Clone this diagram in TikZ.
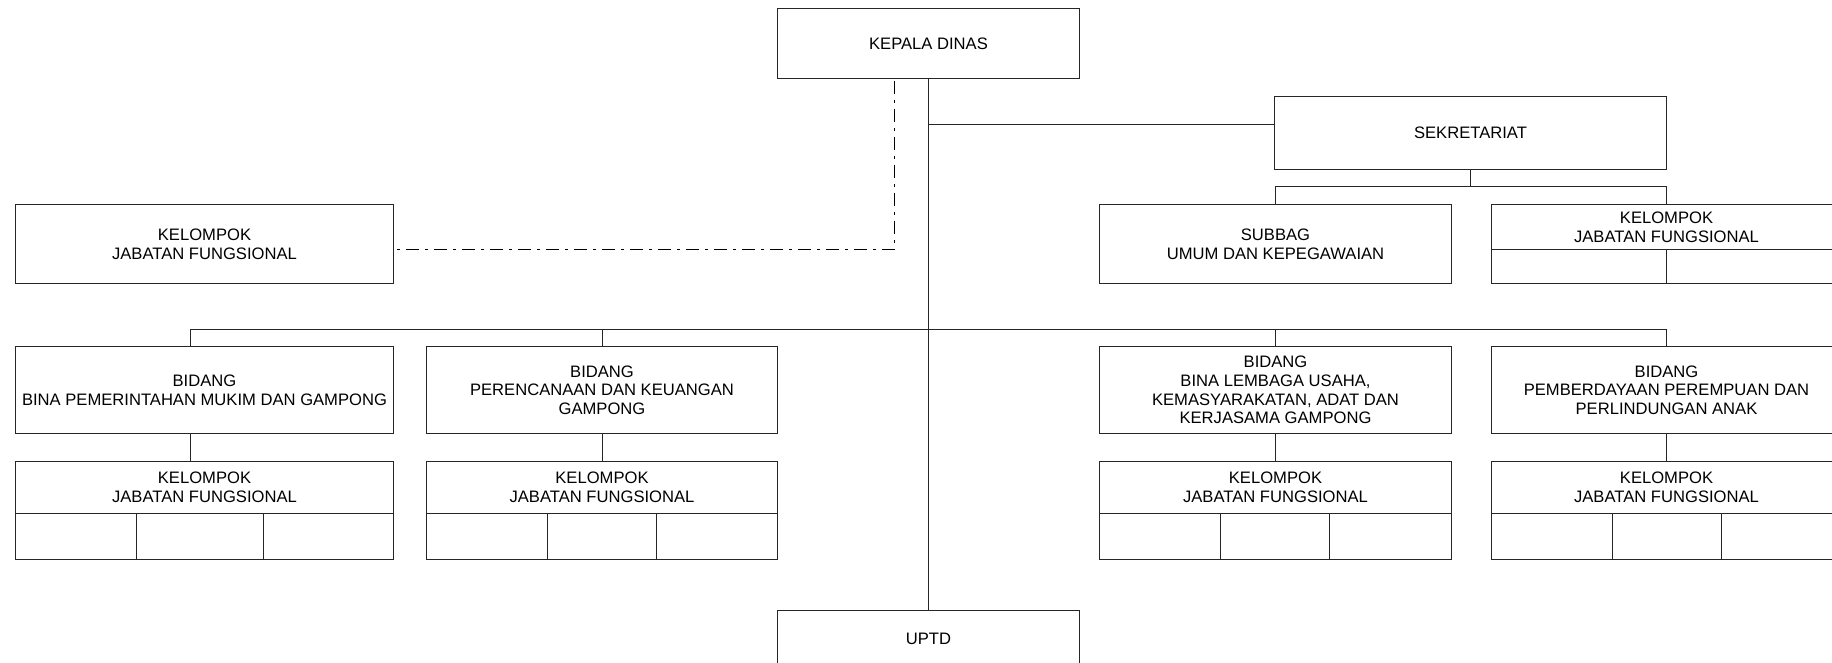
\documentclass[tikz,border=0pt]{standalone}
\usepackage{fontspec}
\setmainfont{Liberation Sans}
\usetikzlibrary{calc}
\tikzset{
  box/.style={draw=black!85, anchor=north west, inner sep=0pt, align=center,
    font=\fontsize{16.6}{18.7}\selectfont},
  link/.style={draw=black!85},
  dashdot/.style={draw=black, dash pattern=on 13pt off 6pt on 3pt off 6pt}
}

\begin{document}
\begin{tikzpicture}[x=1pt,y=-1pt,line width=1pt]
\useasboundingbox (0,0) rectangle (1832,663);
\node[box,minimum width=302,minimum height=70] (kepala) at (777,8) {KEPALA DINAS};
\node[box,minimum width=378,minimum height=79] (kjfkd) at (15,204) {KELOMPOK\\JABATAN FUNGSIONAL};
\node[box,minimum width=392,minimum height=73] (sekretariat) at (1274,96) {SEKRETARIAT};
\node[box,minimum width=352,minimum height=79] (subbag) at (1099,204) {SUBBAG\\UMUM DAN KEPEGAWAIAN};
\node[box,minimum width=350,minimum height=45] (ksek) at (1491,204) {KELOMPOK\\JABATAN FUNGSIONAL};
\node[box,minimum width=175,minimum height=34] (ksek-1) at (1491,249) {};
\node[box,minimum width=175,minimum height=34] (ksek-2) at (1666,249) {};
\node[box,minimum width=302,minimum height=56] (uptd) at (777,610) {UPTD};
\node[box,minimum width=378,minimum height=87] (b1) at (15,346) {BIDANG\\BINA PEMERINTAHAN MUKIM DAN GAMPONG};
\node[box,minimum width=351,minimum height=87] (b2) at (426,346) {BIDANG\\PERENCANAAN DAN KEUANGAN\\GAMPONG};
\node[box,minimum width=352,minimum height=87] (b3) at (1099,346) {BIDANG\\BINA LEMBAGA USAHA,\\KEMASYARAKATAN, ADAT DAN\\KERJASAMA GAMPONG};
\node[box,minimum width=350,minimum height=87] (b4) at (1491,346) {BIDANG\\PEMBERDAYAAN PEREMPUAN DAN\\PERLINDUNGAN ANAK};
\foreach \n/\x/\a/\b/\c in {k1/15/121/127/130, k2/426/121/109/121, k3/1099/121/109/122, k4/1491/121/109/120}{
  \node[box,minimum width=\a+\b+\c,minimum height=52] (\n) at (\x,461) {KELOMPOK\\JABATAN FUNGSIONAL};
  \node[box,minimum width=\a,minimum height=46] (\n-1) at (\x,513) {};
  \node[box,minimum width=\b,minimum height=46] (\n-2) at (\x+\a,513) {};
  \node[box,minimum width=\c,minimum height=46] (\n-3) at (\x+\a+\b,513) {};
}
\draw[link] (kepala.south) -- (uptd.north);
\coordinate (sekjoin) at ([yshift=8.5pt]sekretariat.west);
\draw[link] (sekjoin) -- (sekjoin -| kepala.south);
\draw[link] (sekretariat.south) -- ++(0,17) -| (subbag.north);
\draw[link] (sekretariat.south) -- ++(0,17) -| (ksek.north);
\coordinate (bus) at (0,329);
\draw[link] ([xshift=-14pt]b1.north) |- (bus -| b4.north) -- (b4.north);
\draw[link] (b2.north) -- (b2.north |- bus);
\draw[link] (b3.north) -- (b3.north |- bus);
\foreach \b/\k/\s in {b1/k1/-14, b2/k2/0, b3/k3/0, b4/k4/0}{\draw[link] ([xshift=\s pt]\b.south) -- ([xshift=\s pt]\k.north);}
\draw[dashdot] ([xshift=-34pt,yshift=-2pt]kepala.south) |- ([xshift=2pt,yshift=-5.5pt]kjfkd.east);
\end{tikzpicture}
\end{document}
